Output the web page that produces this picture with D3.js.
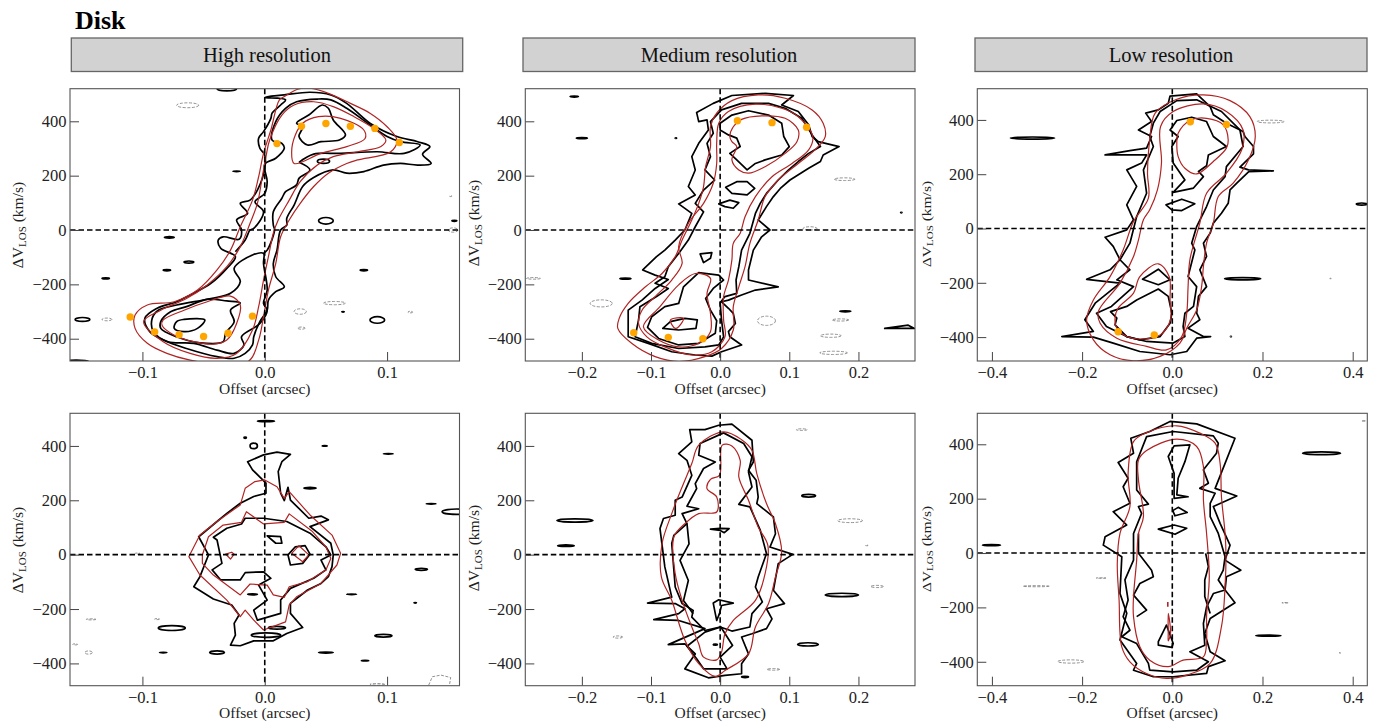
<!DOCTYPE html>
<html><head><meta charset="utf-8">
<script src="https://cdn.jsdelivr.net/npm/d3@7/dist/d3.min.js"></script>
<style>html,body{margin:0;padding:0;background:#fff}svg{display:block}text{font-family:"Liberation Serif",serif}</style>
</head><body><svg id="c" width="1373" height="722"></svg>
<script>
const chartTitle = "Disk";
const columnTitles = ["High resolution","Medium resolution","Low resolution"];
const ticksV = [-400,-200,0,200,400];
const ticksHigh = [-0.1,0,0.1];
const ticksMed = [-0.2,-0.1,0,0.1,0.2];
const ticksLow = [-0.4,-0.2,0,0.2,0.4];

// ---- Top row, high resolution: [offset, velocity]
const aBlack = [
[[0,488],[.016,497],[.037,507],[.054,497],[.067,466],[.086,393],[.108,344],[.125,325],[.135,307],[.129,279],[.136,245],[.125,239],[.111,245],[.097,239],[.081,215],[.067,209],[.056,221],[.040,193],[.031,160],[.024,92],[.018,43],[.018,18],[.013,0],[.010,-74],[.007,-123],[.009,-172],[.016,-209],[.009,-227],[.003,-258],[.002,-295],[-.004,-337],[-.009,-393],[-.010,-423],[-.016,-454],[-.025,-472],[-.039,-466],[-.064,-436],[-.083,-405],[-.094,-374],[-.098,-325],[-.088,-288],[-.072,-264],[-.061,-239],[-.044,-196],[-.031,-141],[-.024,-98],[-.036,-67],[-.038,-37],[-.034,-25],[-.021,-34],[-.019,0],[-.023,37],[-.014,61],[-.020,98],[-.012,110],[-.006,147],[0,227],[0,276],[-.004,301],[-.005,338],[-.001,362],[.005,411],[.006,430],[.013,460],[.017,479]],
[[.026,393],[.036,423],[.047,460],[.052,448],[.056,405],[.066,350],[.061,331],[.046,325],[.035,313],[.028,344],[.031,380]],
[[-.072,-337],[-.066,-329],[-.049,-331],[-.055,-362],[-.066,-374],[-.074,-362]],
[[-.085,-337],[-.077,-301],[-.064,-282],[-.047,-255],[-.031,-261],[-.020,-268],[-.028,-295],[-.025,-337],[-.032,-380],[-.034,-411],[-.053,-415],[-.072,-393],[-.085,-362]],
[[-.001,-86],[-.010,-92],[-.025,-141],[-.020,-190],[-.028,-233],[-.044,-252],[-.072,-276],[-.087,-295],[-.092,-325],[-.091,-374],[-.079,-411],[-.058,-417],[-.039,-442],[-.025,-454],[-.017,-423],[-.019,-393],[-.004,-344],[.002,-295],[-.001,-270],[.002,-221],[-.001,-123]]
];
const aBlackOpen = [
[[.028,249],[.040,279],[.062,282],[.092,288],[.114,282],[.127,313],[.111,325],[.100,344],[.086,387],[.067,448],[.054,479],[.043,482],[.026,472],[.017,448],[.009,399],[.006,331],[.014,319],[.016,301],[.009,264],[0,242],[.002,178],[0,135],[-.008,104],[-.001,67],[-.009,6],[-.012,0],[-.016,-37],[-.024,-80]],
[[.028,249],[.037,221],[.028,190],[.026,166],[.017,141],[.014,117],[.007,67],[.007,18],[.008,0],[.002,-74],[-.001,-86]]
];
const aRed = [
[[.016,491],[.027,518],[.037,522],[.052,503],[.070,466],[.086,430],[.100,380],[.108,331],[.103,288],[.076,258],[.067,245],[.052,209],[.040,160],[.029,98],[.020,37],[.013,-25],[.009,-123],[.003,-221],[-.001,-319],[-.005,-405],[-.013,-482],[-.042,-490],[-.061,-479],[-.080,-454],[-.096,-417],[-.106,-362],[-.106,-313],[-.096,-276],[-.074,-264],[-.055,-221],[-.039,-147],[-.028,-74],[-.020,12],[-.010,110],[-.005,196],[-.001,282],[.005,368],[.012,479]],
[[.014,423],[.024,460],[.040,472],[.056,454],[.073,417],[.089,374],[.099,331],[.095,307],[.076,288],[.056,270],[.043,239],[.029,178],[.020,110],[.011,37],[.007,-12],[.003,-98],[-.001,-184],[-.005,-282],[-.010,-368],[-.023,-454],[-.039,-472],[-.061,-454],[-.083,-411],[-.099,-337],[-.085,-295],[-.064,-252],[-.047,-202],[-.031,-135],[-.020,-61],[-.012,25],[-.006,98],[-.002,196],[.001,270],[.004,331]],
[[.024,245],[.046,282],[.067,307],[.082,337],[.081,368],[.062,411],[.044,417],[.031,393],[.025,350],[.022,288]],
[[-.083,-331],[-.066,-295],[-.047,-264],[-.028,-243],[-.020,-276],[-.023,-344],[-.031,-405],[-.042,-420],[-.058,-411],[-.074,-387],[-.084,-350]]
];
const aBlobs = [[-.031,520,.008,8],[-.023,216,.003,1],[-.078,-27,.004,3],[-.062,-118,.004,4],[-.080,-148,.003,2],[-.130,-178,.003,2],[-.149,-329,.006,7],[-.154,-484,.010,5],[.048,253,.005,8],[.050,34,.006,12],[.081,-148,.003,2],[.092,-331,.006,12],[.155,34,.002,2],[.064,-301,.001,1]];
const aGray = [[-.063,459,.009,9],[.029,-300,.005,10],[.057,-269,.009,6],[.030,-361,.003,4],[-.129,-329,.004,5],[.119,-302,.002,3],[.154,0,.004,8],[.152,125,.001,2]];
const aPointsX = [-.11,-.09,-.07,-.05,-.03,-.01,.01,.03,.05,.07,.09,.11];
const aPointsV = [-320,-375,-385,-392,-380,-317,318,382,392,382,374,322];

// ---- Top row, medium resolution
const bBlack = [
[[-.034,432],[-.010,466],[.017,495],[.065,503],[.106,495],[.089,460],[.113,436],[.128,387],[.133,344],[.142,325],[.172,307],[.149,276],[.145,252],[.128,227],[.101,184],[.087,153],[.077,123],[.067,86],[.055,37],[.072,0],[.060,-25],[.048,-74],[.041,-147],[.041,-184],[.084,-209],[.051,-221],[.031,-239],[.012,-258],[.002,-264],[.012,-288],[.019,-307],[.022,-344],[.012,-374],[.014,-393],[.031,-423],[.002,-448],[-.012,-464],[-.036,-460],[-.070,-448],[-.104,-417],[-.133,-393],[-.133,-295],[-.113,-258],[-.094,-215],[-.075,-182],[-.094,-166],[-.112,-147],[-.092,-98],[-.080,-74],[-.065,-37],[-.051,0],[-.041,61],[-.060,96],[-.036,129],[-.046,160],[-.036,221],[-.041,270],[-.031,319],[-.017,368],[-.019,405],[-.031,399]],
[[-.014,399],[.002,442],[.031,466],[.070,466],[.094,448],[.118,411],[.133,350],[.145,307],[.128,282],[.113,252],[.099,221],[.084,184],[.067,135],[.058,98],[.051,61],[.043,-12],[.031,-74],[.027,-135],[.023,-184],[.024,-233],[.007,-245],[0,-268],[.002,-331],[.005,-393],[-.002,-423],[-.022,-430],[-.060,-436],[-.099,-417],[-.123,-393],[-.118,-331],[-.116,-282],[-.092,-245],[-.075,-215],[-.094,-196],[-.080,-172],[-.075,-135],[-.060,-86],[-.046,-37],[-.036,12],[-.024,67],[-.036,98],[-.024,147],[-.008,184],[-.022,221],[-.014,270],[-.019,319],[-.010,356]],
[[0,393],[.017,423],[.041,439],[.070,423],[.089,393],[.092,344],[.100,307],[.089,276],[.065,258],[.051,245],[.039,221],[.024,258],[.014,282],[.029,307],[.024,338],[.012,350],[0,368]],
[[-.105,-358],[-.099,-319],[-.080,-282],[-.060,-270],[-.053,-209],[-.031,-157],[-.002,-166],[.005,-184],[-.010,-215],[-.021,-252],[-.014,-295],[-.005,-334],[-.007,-380],[-.031,-417],[-.060,-423],[-.089,-399]],
[[-.083,-362],[-.072,-337],[-.051,-325],[-.033,-331],[-.035,-362],[-.060,-368]],
[[.008,157],[.024,178],[.039,178],[.050,153],[.039,129],[.017,135]],
[[-.002,96],[.014,110],[.027,101],[.019,80],[.007,86]],
[[-.029,-88],[-.012,-83],[-.014,-104],[-.024,-120]],
[[.238,-362],[.272,-350],[.281,-362]]
];
const bRed = [
[[.017,476],[.055,497],[.094,485],[.133,442],[.149,393],[.152,344],[.137,295],[.113,245],[.084,184],[.065,123],[.055,37],[.043,-49],[.036,-135],[.027,-209],[.019,-282],[.019,-368],[.002,-436],[-.022,-466],[-.060,-484],[-.094,-466],[-.128,-417],[-.148,-362],[-.146,-325],[-.133,-270],[-.108,-209],[-.084,-160],[-.065,-98],[-.055,-37],[-.041,37],[-.031,98],[-.024,160],[-.021,233],[-.014,307],[-.014,380],[-.005,430]],
[[-.002,393],[.012,436],[.051,463],[.089,448],[.113,417],[.134,344],[.128,295],[.104,245],[.075,196],[.051,123],[.036,49],[.029,-12],[.019,-49],[.017,-110],[.012,-184],[.005,-245],[.005,-331],[.007,-393],[-.012,-448],[-.041,-460],[-.080,-430],[-.106,-393],[-.118,-344],[-.113,-295],[-.094,-245],[-.070,-184],[-.055,-123],[-.060,-61],[-.046,25],[-.024,98],[-.010,172],[-.005,245],[-.005,319]],
[[.014,344],[.019,380],[.031,407],[.060,420],[.094,411],[.113,368],[.111,325],[.094,282],[.065,233],[.041,209],[.027,221],[.017,258],[.024,307],[.017,325]],
[[-.111,-356],[-.087,-282],[-.060,-202],[-.036,-160],[-.014,-178],[-.019,-233],[-.014,-307],[-.014,-374],[-.031,-417],[-.060,-430],[-.089,-405]],
[[-.072,-331],[-.053,-325],[-.060,-356],[-.065,-362]]
];
const bBlobs = [[-.211,491,.006,2],[-.200,338,.008,2],[-.064,338,.001,1],[-.137,-179,.008,2],[.181,-299,.008,2],[.262,64,.001,1]];
const bGray = [[.180,187,.015,5],[.130,6,.010,6],[-.270,-178,.010,3],[-.172,-270,.016,13],[.067,-334,.013,17],[.174,-331,.012,4],[.160,-389,.015,6],[.164,-452,.020,6]];
const bPointsX = [-.125,-.075,-.025,.025,.075,.125];
const bPointsV = [-378,-395,-400,402,395,378];

// ---- Top row, low resolution
const cBlack = [
[[-.059,425],[-.031,437],[-.009,461],[-.005,488],[.054,496],[.084,449],[.091,419],[.120,388],[.157,357],[.161,339],[.180,302],[.180,275],[.150,226],[.169,216],[.224,212],[.169,209],[.143,167],[.128,142],[.124,93],[.109,56],[.091,20],[.084,-17],[.069,-54],[.076,-103],[.061,-152],[.076,-214],[.058,-250],[.054,-312],[.061,-336],[.035,-367],[.069,-398],[.085,-398],[.054,-404],[.032,-453],[-.005,-465],[-.072,-453],[-.131,-422],[-.175,-400],[-.245,-398],[-.175,-379],[-.194,-336],[-.171,-275],[-.116,-201],[-.190,-187],[-.138,-152],[-.116,-115],[-.131,-66],[-.149,-32],[-.101,-5],[-.086,32],[-.101,87],[-.079,155],[-.101,216],[-.068,241],[-.057,271],[-.149,271],[-.094,287],[-.057,296],[-.046,339],[-.075,363],[-.046,394]],
[[-.027,431],[.010,471],[.054,474],[.109,431],[.150,363],[.157,302],[.120,228],[.117,191],[.091,142],[.076,81],[.054,7],[.043,-54],[.050,-79],[.035,-177],[.054,-214],[.047,-287],[.028,-312],[.024,-361],[.028,-398],[.002,-422],[-.057,-416],[-.101,-398],[-.146,-361],[-.168,-312],[-.135,-287],[-.086,-214],[-.123,-189],[-.094,-152],[-.116,-115],[-.094,-54],[-.079,44],[-.057,130],[-.064,216],[-.042,302],[-.050,339],[-.042,388]],
[[-.005,363],[.010,398],[.043,410],[.076,394],[.091,339],[.120,302],[.080,271],[.076,231],[.058,210],[.069,191],[.047,149],[.002,133],[.028,179],[.002,241],[-.001,302],[.013,339]],
[[-.014,87],[.021,108],[.050,91],[.021,66],[-.001,69]],
[[-.066,-187],[-.031,-150],[-.005,-189],[-.031,-207]],
[[-.137,-306],[-.101,-287],[-.079,-263],[-.031,-223],[-.009,-250],[-.001,-312],[-.005,-349],[-.027,-398],[-.072,-410],[-.101,-398],[-.127,-355],[-.123,-330]]
];
const cRed = [
[[-.038,425],[.010,476],[.069,492],[.128,471],[.172,412],[.184,339],[.169,253],[.135,167],[.102,118],[.091,20],[.076,-54],[.069,-140],[.065,-214],[.054,-300],[.032,-367],[.017,-422],[-.027,-471],[-.086,-487],[-.138,-465],[-.175,-410],[-.190,-336],[-.175,-263],[-.138,-177],[-.109,-79],[-.086,26],[-.053,112],[-.055,204],[-.050,326]],
[[-.026,376],[.002,431],[.069,459],[.120,431],[.157,363],[.154,290],[.120,204],[.076,130],[.061,20],[.039,-115],[.035,-214],[.032,-312],[.021,-398],[-.013,-447],[-.057,-434],[-.123,-404],[-.160,-349],[-.164,-306],[-.116,-201],[-.086,-103],[-.075,-42],[-.064,32],[-.050,69],[-.033,142],[-.024,241]],
[[.010,314],[.013,351],[.039,398],[.076,406],[.113,382],[.124,326],[.120,296],[.091,247],[.054,201],[.028,222],[.013,265]],
[[-.127,-330],[-.120,-293],[-.086,-238],[-.072,-177],[-.031,-130],[-.007,-177],[-.005,-263],[-.004,-336],[-.027,-392],[-.072,-407],[-.101,-398],[-.123,-367]]
];
const cBlobs = [[-.310,333,.049,4],[.156,-185,.040,4],[.420,90,.012,4],[.130,-398,.001,1]];
const cGray = [[.218,394,.030,5],[.351,-184,.002,1]];
const cPointsX = [-.12,-.04,.04,.12];
const cPointsV = [-380,-392,393,383];

// ---- Bottom row, high resolution
const dBlack = [
[[-.014,342],[-.001,367],[.010,377],[.021,369],[.014,342],[.011,306],[.013,226],[.016,199],[.019,248],[.021,201],[.036,134],[.046,142],[.052,128],[.037,103],[.054,42],[.056,-1],[.055,-44],[.052,-81],[.046,-106],[.035,-130],[.021,-179],[.021,-216],[.031,-268],[.018,-290],[.007,-317],[-.009,-317],[-.020,-335],[-.028,-333],[-.024,-296],[-.025,-253],[-.021,-222],[-.027,-185],[-.042,-163],[-.058,-118],[-.053,-81],[-.046,-1],[-.054,66],[-.039,122],[-.031,152],[-.020,189],[-.009,214],[.001,226],[.001,263],[-.010,312]],
[[-.042,64],[-.031,97],[-.019,113],[-.016,134],[-.001,134],[.018,122],[.037,79],[.050,29],[.054,-1],[.046,-20],[.050,-56],[.040,-87],[.021,-124],[.013,-167],[.013,-216],[-.006,-241],[-.009,-204],[.002,-167],[-.005,-112],[.005,-87],[-.001,-63],[-.016,-66],[-.020,-93],[-.036,-93],[-.043,-56],[-.035,-32],[-.039,54]],
[[.002,69],[.013,66],[.014,42],[.009,42]],
[[.019,-1],[.025,29],[.033,33],[.037,2],[.031,-32],[.021,-38]]
];
const dRed = [
[[-.016,244],[-.008,269],[0,275],[.010,250],[.016,207],[.020,232],[.037,146],[.055,72],[.062,5],[.059,-38],[.046,-106],[.026,-155],[.020,-185],[.017,-247],[-.001,-277],[-.009,-241],[-.016,-204],[-.020,-228],[-.031,-167],[-.053,-75],[-.062,-7],[-.053,72],[-.039,122],[-.020,183]],
[[-.051,-1],[-.046,66],[-.034,109],[-.019,119],[-.015,158],[-.001,113],[.016,119],[.020,150],[.039,85],[.050,29],[.054,-14],[.050,-56],[.035,-99],[.020,-118],[.016,-157],[.007,-148],[.002,-112],[-.012,-108],[-.020,-148],[-.042,-75],[-.051,-32]],
[[-.032,2],[-.027,9],[-.025,2],[-.028,-16]],
[[.022,5],[.028,33],[.036,-1],[.031,-26]]
];
const dBlobs = [[.001,491,.007,2],[-.016,430,.001,2],[-.009,400,.003,10],[.049,400,.002,1],[.101,371,.004,1],[.037,245,.005,3],[.136,187,.004,1],[.157,158,.012,10],[.128,-54,.005,4],[.071,-146,.004,1],[.123,-177,.001,1],[-.010,-146,.004,2],[-.076,-270,.011,9],[.097,-298,.007,5],[-.083,-360,.003,1],[-.039,-360,.006,6],[.050,-360,.006,2],[.082,-390,.003,1],[.001,-296,.012,8],[.010,-269,.007,5]];
const dGray = [[-.142,-238,.004,2],[-.088,-237,.002,2],[-.144,-360,.003,6],[-.155,-330,.002,2],[-.104,4,.002,2],[.092,-477,.006,3]];
const dGrayLines = [[[.134,-480],[.137,-449],[.144,-443],[.152,-452],[.151,-480]]];

// ---- Bottom row, medium resolution
const eBlack = [
[[-.044,460],[-.022,460],[-.002,476],[.017,480],[.046,421],[.048,341],[.041,310],[.052,274],[.055,212],[.053,188],[.077,139],[.080,77],[.072,28],[.105,1],[.084,-33],[.077,-131],[.093,-180],[.067,-199],[.075,-236],[.067,-272],[.046,-291],[.031,-303],[.041,-365],[.031,-401],[.031,-438],[.007,-444],[-.017,-453],[-.051,-420],[-.036,-365],[-.051,-328],[-.075,-331],[-.022,-272],[-.060,-242],[-.096,-239],[-.060,-217],[-.051,-199],[-.065,-180],[-.105,-178],[-.070,-156],[-.080,-45],[-.087,96],[-.082,133],[-.065,145],[-.065,200],[-.055,212],[-.041,292],[-.048,347],[-.060,372],[-.041,415]],
[[-.029,409],[.005,448],[.034,409],[.046,360],[.041,304],[.046,249],[.027,185],[.043,176],[.058,90],[.067,4],[.055,-82],[.051,-119],[.061,-174],[.046,-217],[.043,-266],[.017,-281],[0,-266],[-.022,-279],[-.041,-230],[-.039,-205],[-.055,-180],[-.065,-119],[-.070,41],[-.067,71],[-.048,114],[-.055,151],[-.031,169],[-.048,178],[-.034,243],[-.036,261],[-.024,317],[-.007,341],[-.031,366]],
[[-.048,-337],[-.022,-285],[.001,-266],[.018,-334],[0,-377],[.010,-420],[-.024,-420],[-.034,-383]],
[[-.014,94],[0,97],[.013,96],[.006,81],[0,89]],
[[-.010,-178],[-.002,-166],[.019,-178],[.002,-187],[-.001,-217],[-.005,-242],[-.007,-217]]
];
const eBlackOpen = [[[-.048,114],[-.045,40],[-.058,-21],[-.046,-95],[-.053,-169],[-.039,-217]]];
const eRed = [
[[-.031,403],[.005,452],[.031,423],[.046,384],[.053,298],[.067,188],[.080,114],[.089,10],[.080,-82],[.070,-180],[.051,-266],[.041,-365],[.007,-426],[-.007,-448],[-.031,-401],[-.051,-315],[-.070,-168],[-.085,-82],[-.084,41],[-.070,151],[-.055,249],[-.041,335]],
[[.003,403],[.017,400],[.029,347],[.027,286],[.041,200],[.055,102],[.069,34],[.065,-70],[.051,-168],[.019,-242],[.007,-291],[.002,-358],[-.005,-387],[-.024,-377],[-.031,-328],[-.041,-266],[-.055,-168],[-.065,-70],[-.067,65],[-.051,114],[-.031,151],[-.005,157],[-.005,212],[-.019,243],[-.014,277],[-.001,292]]
];
const eBlobs = [[-.210,126,.026,6],[-.223,33,.012,3],[.128,217,.010,5],[.176,-148,.024,6],[.127,-330,.015,6],[.036,-450,.005,2],[-.007,-331,.003,2]];
const eGray = [[.118,460,.008,3],[.188,125,.018,7],[.212,34,.002,1],[.227,-117,.009,4],[-.148,-303,.007,4],[.077,-422,.009,3]];

// ---- Bottom row, low resolution
const fBlack = [
[[-.092,422],[-.050,447],[-.005,484],[.054,475],[.139,422],[.117,330],[.095,238],[.143,210],[.091,171],[.106,109],[.128,29],[.117,-26],[.152,-63],[.120,-87],[.117,-136],[.139,-183],[.084,-241],[.072,-296],[.084,-363],[.117,-396],[.080,-418],[.076,-443],[.002,-455],[-.042,-455],[-.086,-431],[-.079,-406],[-.116,-320],[-.101,-222],[-.116,-149],[-.112,-14],[-.153,29],[-.149,60],[-.101,103],[-.131,152],[-.094,183],[-.109,244],[-.098,275],[-.120,333],[-.086,367]],
[[-.079,336],[-.057,428],[.002,447],[.091,431],[.102,404],[.098,367],[.069,306],[.080,257],[.061,238],[.095,220],[.084,183],[.084,134],[.102,72],[.117,-14],[.113,-63],[.102,-99],[.117,-136],[.091,-149],[.076,-198],[.069,-259],[.072,-339],[.039,-363],[.080,-400],[.054,-431],[.002,-437],[-.050,-431],[-.053,-406],[-.079,-333],[-.112,-308],[-.094,-284],[-.109,-234],[-.098,-173],[-.105,-99],[-.086,-26],[-.086,72],[-.068,146],[-.075,171],[-.053,180],[-.079,232],[-.079,281]],
[[-.009,355],[.004,394],[.039,398],[.028,336],[.013,275],[.010,214],[.035,207],[.004,201],[.004,293]],
[[.001,156],[.013,168],[.033,149],[.006,137]],
[[-.031,88],[.004,103],[.032,91],[.006,69]],
[[-.031,-326],[-.013,-265],[.002,-333],[-.001,-347],[-.031,-339]]
];
const fBlackOpen = [
[[-.075,72],[-.075,-1],[-.046,-63],[-.042,-87],[-.072,-112],[-.086,-155],[-.057,-210],[-.079,-234]],
[[.074,-1],[.080,-50],[.072,-99],[.072,-160],[.084,-222]]
];
const fRed = [
[[-.086,410],[-.057,443],[.010,468],[.061,441],[.095,404],[.106,330],[.109,207],[.117,72],[.119,-1],[.117,-124],[.109,-271],[.084,-406],[.032,-449],[-.013,-461],[-.057,-443],[-.094,-400],[-.112,-345],[-.118,-173],[-.122,-38],[-.116,72],[-.094,171],[-.098,293]],
[[-.075,342],[-.057,377],[.010,419],[.054,392],[.069,318],[.069,195],[.076,72],[.082,-87],[.076,-234],[.076,-320],[.069,-382],[.024,-394],[-.009,-418],[-.050,-394],[-.072,-345],[-.086,-234],[-.086,-161],[-.079,-26],[-.075,72],[-.064,134],[-.075,269]],
[[-.009,-296],[-.009,-222],[-.004,-296],[-.009,-323]]
];
const fRedOpen = [[[-.010,-180],[-.010,-198]]];
const fBlobs = [[-.401,29,.020,2],[.331,367,.042,5],[.213,-304,.028,2]];
const fGray = [[-.302,-122,.029,2],[-.158,-92,.011,1],[.250,-183,.007,1],[-.225,-399,.029,6],[.424,486,.004,1],[.372,-367,.002,1]];

const cRedCol="#b12424", cBlack0="#000", cGrayCol="#777", cOrange="#ffa500";

const panels=[
 {row:0,x:[70,459.5],xd:.1592,v:[-482,520],tk:ticksHigh,k:aBlack,ko:aBlackOpen,r:aRed,b:aBlobs,g:aGray,px:aPointsX,pv:aPointsV,lx:18,ly:225,sk:1,sr:1},
 {row:0,x:[525.3,915],xd:.2818,v:[-482,520],tk:ticksMed,k:bBlack,r:bRed,b:bBlobs,g:bGray,px:bPointsX,pv:bPointsV,lx:474,ly:223,sr:1},
 {row:0,x:[977.3,1367.3],xd:.4324,v:[-488,515],tk:ticksLow,k:cBlack,r:cRed,b:cBlobs,g:cGray,px:cPointsX,pv:cPointsV,lx:927,ly:224,sq:.78,sr:1},
 {row:1,x:[70,459.5],xd:.1592,v:[-482,520],tk:ticksHigh,k:dBlack,r:dRed,b:dBlobs,g:dGray,gl:dGrayLines,lx:18,ly:550},
 {row:1,x:[525.3,915],xd:.2818,v:[-482,520],tk:ticksMed,k:eBlack,ko:eBlackOpen,r:eRed,b:eBlobs,g:eGray,lx:474,ly:548,sr:1},
 {row:1,x:[977.3,1367.3],xd:.4324,v:[-488,514],tk:ticksLow,k:fBlack,ko:fBlackOpen,r:fRed,ro:fRedOpen,b:fBlobs,g:fGray,lx:927,ly:549,sq:.78,sr:1}
];
const rowY=[[88.7,361],[413.3,685.7]];
const stripX=[[71.3,462.7],[523,915],[975,1367]];
const svg=d3.select("#c");
const defs=svg.append("defs");

svg.append("text").attr("x",75).attr("y",28.5).attr("font-size",26).attr("font-weight","bold").attr("fill","#000").text(chartTitle);
columnTitles.forEach((t,i)=>{
  svg.append("rect").attr("x",stripX[i][0]).attr("y",38).attr("width",stripX[i][1]-stripX[i][0]).attr("height",33.5)
    .attr("fill","#d2d2d2").attr("stroke","#666").attr("stroke-width",1.3);
  svg.append("text").attr("x",(stripX[i][0]+stripX[i][1])/2).attr("y",61.5).attr("text-anchor","middle").attr("font-size",20.5).attr("fill","#111").text(t);
});
const fmtTick=d=>(d<0?"\u2212":"")+Math.abs(d).toFixed(1);
const fmtV=d=>(d<0?"\u2212":"")+Math.abs(d);

panels.forEach((p,i)=>{
  const [top,bot]=rowY[p.row];
  const xs=d3.scaleLinear().domain([-p.xd,p.xd]).range(p.x);
  const ys=d3.scaleLinear().domain(p.v).range([bot,top]);
  const id="clip"+i;
  defs.append("clipPath").attr("id",id).append("rect").attr("x",p.x[0]).attr("y",top).attr("width",p.x[1]-p.x[0]).attr("height",bot-top);
  const g=svg.append("g");
  const plot=g.append("g").attr("clip-path",`url(#${id})`);
  const line=d3.line().x(d=>xs(d[0])).y(d=>ys(d[1]));
  const mk=(smooth,closed)=>d3.line().x(d=>xs(d[0])).y(d=>ys(d[1])).curve(smooth?(closed?d3.curveCatmullRomClosed.alpha(.5):d3.curveCatmullRom.alpha(.5)):(closed?d3.curveLinearClosed:d3.curveLinear));
  const ell=(sel,data,col,w,dash)=>sel.selectAll(null).data(data).join("ellipse")
     .attr("cx",d=>xs(d[0])).attr("cy",d=>ys(d[1]))
     .attr("rx",d=>xs(d[0]+d[2])-xs(d[0])).attr("ry",d=>ys(d[1]-d[3])-ys(d[1]))
     .attr("fill","none").attr("stroke",col).attr("stroke-width",w).attr("stroke-dasharray",dash||null);
  ell(plot.append("g"),p.g,cGrayCol,.8,"3,1.5");
  if(p.gl) plot.append("g").selectAll("path").data(p.gl).join("path").attr("d",line).attr("fill","none").attr("stroke",cGrayCol).attr("stroke-width",.8).attr("stroke-dasharray","3,1.5");
  ell(plot.append("g"),p.b,cBlack0,1.7);
  const blk=plot.append("g").attr("fill","none").attr("stroke",cBlack0).attr("stroke-width",1.7).attr("stroke-linejoin","round");
  blk.selectAll("path.c").data(p.k).join("path").attr("class","c").attr("d",mk(p.sk,true));
  if(p.ko) blk.selectAll("path.o").data(p.ko).join("path").attr("class","o").attr("d",mk(p.sk,false));
  const red=plot.append("g").attr("fill","none").attr("stroke",cRedCol).attr("stroke-width",1.2).attr("stroke-linejoin","round");
  red.selectAll("path.c").data(p.r).join("path").attr("class","c").attr("d",mk(p.sr,true));
  if(p.ro) red.selectAll("path.o").data(p.ro).join("path").attr("class","o").attr("d",line).attr("stroke-width",1.6);
  // reference lines
  plot.append("line").attr("x1",p.x[0]).attr("x2",p.x[1]).attr("y1",ys(0)).attr("y2",ys(0)).attr("stroke","#000").attr("stroke-width",1.6).attr("stroke-dasharray","5.5,3");
  plot.append("line").attr("x1",xs(0)).attr("x2",xs(0)).attr("y1",top).attr("y2",bot).attr("stroke","#000").attr("stroke-width",1.6).attr("stroke-dasharray","5.5,3");
  if(p.px) plot.append("g").selectAll("circle").data(p.px.map((x,j)=>[x,p.pv[j]])).join("circle")
     .attr("cx",d=>xs(d[0])).attr("cy",d=>ys(d[1])).attr("r",3.7).attr("fill",cOrange);
  // axes
  const ax=g.append("g").attr("transform",`translate(0,${bot})`).call(d3.axisBottom(xs).tickValues(p.tk).tickFormat(fmtTick).tickSize(-9).tickPadding(5.5));
  const ay=g.append("g").attr("transform",`translate(${p.x[0]},0)`).call(d3.axisLeft(ys).tickValues(ticksV).tickFormat(fmtV).tickSize(-9).tickPadding(3.5));
  [ax,ay].forEach(a=>{a.select(".domain").remove();a.selectAll("line").attr("stroke","#444").attr("stroke-width",1);
     a.selectAll("text").attr("font-size",16.5).attr("font-family","Liberation Serif").attr("fill","#222");});
  g.append("rect").attr("x",p.x[0]).attr("y",top).attr("width",p.x[1]-p.x[0]).attr("height",bot-top).attr("fill","none").attr("stroke","#555").attr("stroke-width",1.1);
  g.append("text").attr("x",xs(0)).attr("y",bot+32.5).attr("text-anchor","middle").attr("font-size",15.5).attr("fill","#222").text("Offset (arcsec)");
  const yl=g.append("text").attr("transform",`translate(${p.lx},${p.ly}) rotate(-90) scale(1,${p.sq||1})`).attr("text-anchor","middle").attr("dy","0.3em").attr("font-size",15.5).attr("fill","#222");
  yl.append("tspan").text("\u0394V");
  yl.append("tspan").attr("dy",3).attr("font-size",11).text("LOS");
  yl.append("tspan").attr("dy",-3).text(" (km/s)");
});
</script></body></html>
